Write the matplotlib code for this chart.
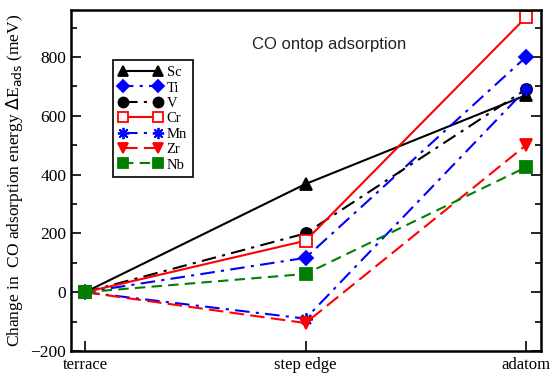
import matplotlib.pyplot as plt
from matplotlib.ticker import MultipleLocator

sites = ['terrace', 'step edge', 'adatom']
metals = ['Sc', 'Ti', 'V', 'Cr', 'Mn', 'Zr', 'Nb']
sc = [0, 368, 670]
ti = [0, 117, 800]
v = [0, 200, 690]
cr = [0, 175, 935]
mn = [0, -90, 690]
zr = [0, -105, 500]
nb = [0, 62, 425]

series = [sc, ti, v, cr, mn, zr, nb]
styles = [
    dict(color='black', ls='-', marker='^', mfc='black'),
    dict(color='blue', ls=(2, (7, 3, 1.5, 3)), marker='D', mfc='blue', ms=7),
    dict(color='black', ls=(0, (7, 3, 1.5, 3)), marker='o', mfc='black'),
    dict(color='red', ls='-', marker='s', mfc='white'),
    dict(color='blue', ls=(0, (7, 3, 1.5, 3)), marker=(8, 2, 0), mfc='blue', ms=9),
    dict(color='red', ls=(0, (7, 3)), marker='v', mfc='red'),
    dict(color='green', ls=(0, (5, 3)), marker='s', mfc='green'),
]

plt.rcParams['font.family'] = 'Liberation Serif'

fig = plt.figure(figsize=(5.52, 3.77), dpi=100)
ax = fig.add_axes([0.1286, 0.069, 0.8514, 0.9045])

x = list(range(len(sites)))
for name, vals, st in zip(metals, series, styles):
    st = dict(st)
    ms = st.pop('ms', 8)
    ax.plot(x, vals, label=name, lw=1.5, ms=ms, mec=st['color'], mew=1.3, **st)

ax.set_xlim(-0.064, 2.068)
ax.set_ylim(-200, 960)
ax.set_xticks(x)
ax.set_xticklabels(sites, fontsize=12)
ax.yaxis.set_major_locator(MultipleLocator(200))
ax.yaxis.set_minor_locator(MultipleLocator(100))
ax.tick_params(axis='y', which='both', direction='in', right=True, labelsize=12.5)
ax.tick_params(axis='y', which='major', length=7, width=1.2)
ax.tick_params(axis='y', which='minor', length=4, width=1.2)
ax.tick_params(axis='x', direction='in', length=7, width=1.2, pad=4)
for sp in ax.spines.values():
    sp.set_linewidth(1.8)

ax.set_ylabel(r'Change in  CO adsorption energy $\Delta$E$_{\rm ads}$ (meV)', fontsize=12.5)
ax.text(0.55, 0.9, 'CO ontop adsorption', transform=ax.transAxes, ha='center', va='center',
        fontsize=12, family='Liberation Sans', color='#222222')

leg = ax.legend(loc='upper left', bbox_to_anchor=(0.089, 0.853), borderaxespad=0, fontsize=10.5,
                numpoints=2, handlelength=3.0, labelspacing=0.15, handletextpad=0.3, borderpad=0.4,
                fancybox=False, framealpha=1, edgecolor='black', markerscale=0.9)
leg.get_frame().set_linewidth(1.2)

fig.savefig('out.png', dpi=100)
